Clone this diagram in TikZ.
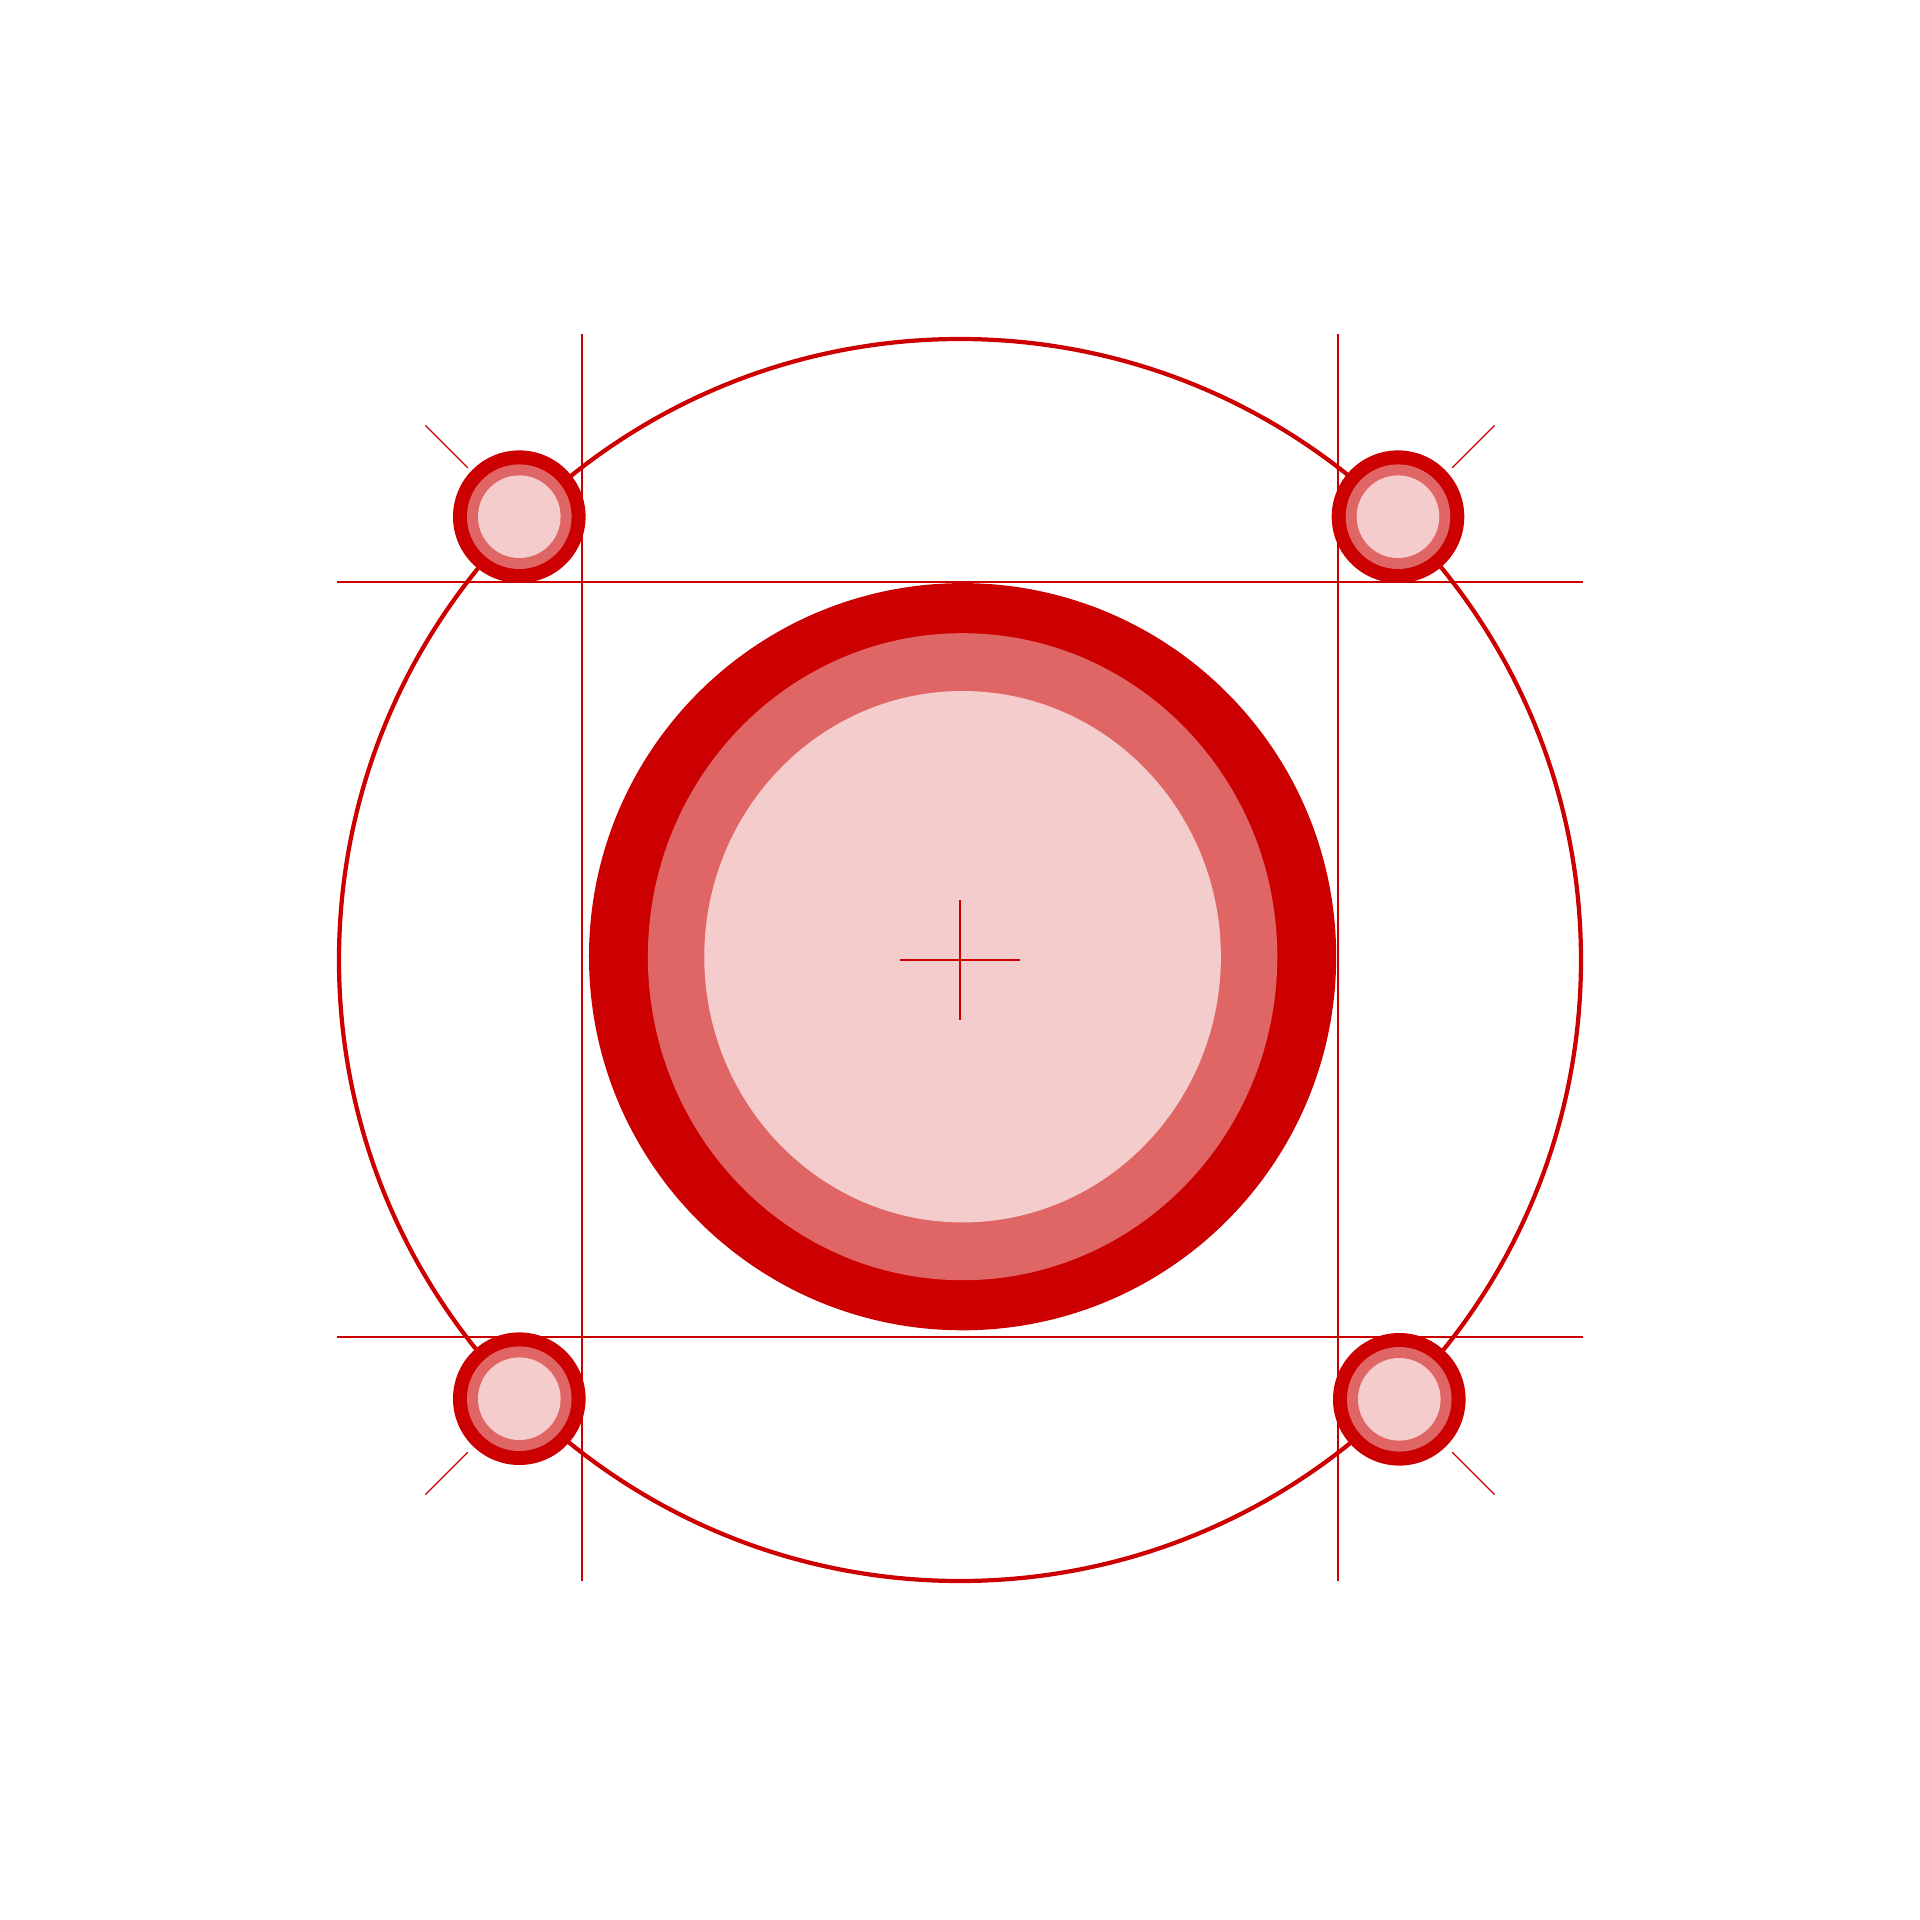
\documentclass[tikz,border=0pt]{standalone}
\definecolor{ringred}{HTML}{CC0000}
\definecolor{ringmid}{HTML}{E06666}
\definecolor{ringpale}{HTML}{F4CCCC}
\tikzset{
	guide/.style={ringred, line width=0.38pt},
	orbit/.style={ringred, line width=1.2pt},
	crosshair/.style={ringred, line width=0.6pt}
}
\begin{document}
\begin{tikzpicture}[x=0.01cm,y=0.01cm]
	\useasboundingbox (-960,-960) rectangle (960,960);
	\coordinate (O) at (0,0);
	\coordinate (D) at (2.6,3.3);
	
	% outer orbit and guide lines
	\draw[orbit] (O) circle (621);
	\draw[guide] (-378,626) -- (-378,-621);
	\draw[guide] (378,626) -- (378,-621);
	\draw[guide] (-623,378) -- (623,378);
	\draw[guide] (-623,-377) -- (623,-377);
	
	% central disc
	\fill[ringred] (D) circle (373.6);
	\fill[ringmid] (D) ellipse (314.7 and 323.5);
	\fill[ringpale] (D) ellipse (258.3 and 265.7);
	\draw[crosshair] (-60,0) -- (60,0);
	\draw[crosshair] (0,-60) -- (0,60);
	
	% four small discs on the orbit
	\foreach \n/\x/\y/\a in {tl/-440.7/443.3/135, tr/438/443.3/45, bl/-440.7/-438.7/225, br/439.3/-439.3/315} {
		\coordinate (s\n) at (\x,\y);
		\fill[ringred] (s\n) circle (66.3);
		\fill[ringmid] (s\n) circle (52.3);
		\fill[ringpale] (s\n) circle (41.3);
		\draw[guide] (\a:696) -- (\a:756);
	}
\end{tikzpicture}
\end{document}
